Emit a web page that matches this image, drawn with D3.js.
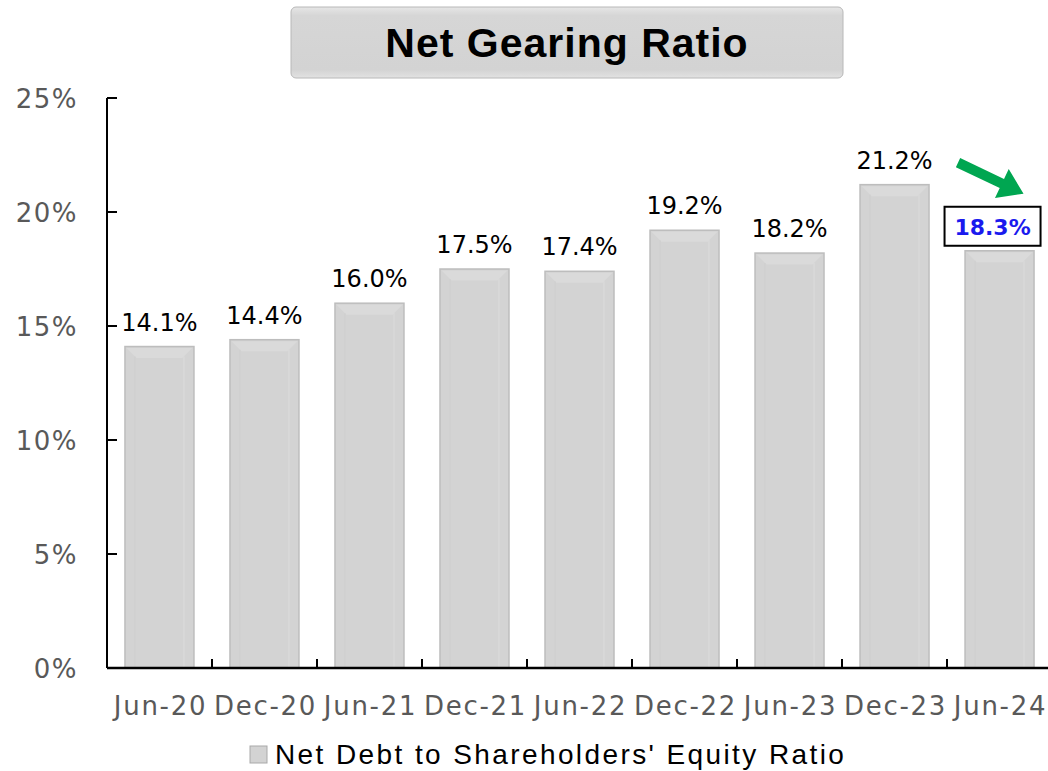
<!DOCTYPE html>
<html>
<head>
<meta charset="utf-8">
<script src="https://cdn.jsdelivr.net/npm/d3@7"></script>
<style>
  body { margin: 0; background: #fff; }
  svg { display: block; }
</style>
</head>
<body>
<svg id="chart" width="1048" height="771"></svg>
<script>
// Chart data
const periods = ["Jun-20", "Dec-20", "Jun-21", "Dec-21", "Jun-22", "Dec-22", "Jun-23", "Dec-23", "Jun-24"];
const gearing = [14.1, 14.4, 16.0, 17.5, 17.4, 19.2, 18.2, 21.2, 18.3];
const yTicks = [0, 5, 10, 15, 20, 25];
const titleText = "Net Gearing Ratio";
const legendText = "Net Debt to Shareholders' Equity Ratio";

const svg = d3.select("#chart");
const margin = { top: 98, left: 107, right: -4, bottom: 103 };
const width = 1048 - margin.left - margin.right,
      height = 771 - margin.top - margin.bottom;

const defs = svg.append("defs");
const tg = defs.append("linearGradient").attr("id", "titleGrad")
    .attr("x1", 0).attr("y1", 0).attr("x2", 0).attr("y2", 1);
tg.append("stop").attr("offset", "0%").attr("stop-color", "#e6e6e6");
tg.append("stop").attr("offset", "12%").attr("stop-color", "#d6d6d6");
tg.append("stop").attr("offset", "88%").attr("stop-color", "#d3d3d3");
tg.append("stop").attr("offset", "100%").attr("stop-color", "#e2e2e2");

// Title box
svg.append("rect")
    .attr("x", 291).attr("y", 7).attr("width", 552).attr("height", 71)
    .attr("rx", 5)
    .attr("fill", "url(#titleGrad)")
    .attr("stroke", "#b8b8b8").attr("stroke-width", 1);
svg.append("text")
    .attr("x", 567).attr("y", 57)
    .attr("text-anchor", "middle")
    .style("font-family", "'Liberation Sans', Arial, sans-serif")
    .style("font-weight", "bold")
    .style("font-size", "41px")
    .style("letter-spacing", "1px")
    .text(titleText);

const g = svg.append("g").attr("transform", `translate(${margin.left},${margin.top})`);

const x = d3.scaleBand().domain(periods).range([0, width]).paddingInner(0.343).paddingOuter(0.171);
const xb = d3.scaleBand().domain(periods).range([0, width]);
const y = d3.scaleLinear().domain([0, 25]).range([height, 0]);

// Bars
const bars = g.selectAll(".bar").data(gearing).enter().append("g").attr("class", "bar");
bars.append("rect")
    .attr("x", (d, i) => x(periods[i]))
    .attr("y", d => y(d))
    .attr("width", x.bandwidth())
    .attr("height", d => height - y(d))
    .attr("fill", "#d3d3d3")
    .attr("stroke", "#bdbdbd")
    .attr("stroke-width", 1.5);
// subtle bevel highlight
bars.append("path")
    .attr("d", (d, i) => {
        const x0 = x(periods[i]) + 1.5, x1 = x0 + x.bandwidth() - 3, y0 = y(d) + 1.5;
        return `M${x0},${y0} L${x1},${y0} L${x1 - 10},${y0 + 10} L${x0 + 10},${y0 + 10} Z`;
    })
    .attr("fill", "#dadada");
bars.append("line")
    .attr("x1", (d, i) => x(periods[i]) + 10)
    .attr("x2", (d, i) => x(periods[i]) + 10)
    .attr("y1", d => y(d) + 10)
    .attr("y2", height)
    .attr("stroke", "#cecece").attr("stroke-width", 1);
bars.append("line")
    .attr("x1", (d, i) => x(periods[i]) + x.bandwidth() - 10)
    .attr("x2", (d, i) => x(periods[i]) + x.bandwidth() - 10)
    .attr("y1", d => y(d) + 10)
    .attr("y2", height)
    .attr("stroke", "#dcdcdc").attr("stroke-width", 1);

// Data labels (all but the last)
g.selectAll(".lbl").data(gearing.slice(0, -1)).enter().append("text")
    .attr("class", "lbl")
    .attr("x", (d, i) => x(periods[i]) + x.bandwidth() / 2)
    .attr("y", d => y(d) - 16)
    .attr("text-anchor", "middle")
    .style("font-family", "'DejaVu Sans', Verdana, sans-serif")
    .style("font-size", "24px")
    .attr("fill", "#000")
    .text(d => d.toFixed(1) + "%");

// Highlighted last label
const lastI = gearing.length - 1;
const lx = x(periods[lastI]) + x.bandwidth() / 2;
const ly = y(gearing[lastI]);
g.append("rect")
    .attr("x", lx - 55).attr("y", ly - 44).attr("width", 96).attr("height", 39)
    .attr("fill", "#fff").attr("stroke", "#000").attr("stroke-width", 2);
g.append("text")
    .attr("x", lx - 7).attr("y", ly - 16)
    .attr("text-anchor", "middle")
    .style("font-family", "'DejaVu Sans', Verdana, sans-serif")
    .style("font-weight", "bold")
    .style("font-size", "22px")
    .attr("fill", "#1a1aee")
    .text(gearing[lastI].toFixed(1) + "%");

// Green arrow between the last two bars
const ax0 = x(periods[lastI - 1]) + x.bandwidth() + 29, ay0 = y(gearing[lastI - 1]) - 22;
const ax1 = lx + 24, ay1 = ly - 57;
const ang = Math.atan2(ay1 - ay0, ax1 - ax0);
const len = Math.hypot(ax1 - ax0, ay1 - ay0);
const arrow = g.append("g").attr("transform", `translate(${ax0},${ay0}) rotate(${ang * 180 / Math.PI})`);
arrow.append("path")
    .attr("d", `M0,-5 L${len - 24},-5 L${len - 24},-16 L${len},0 L${len - 24},16 L${len - 24},5 L0,5 Z`)
    .attr("fill", "#00a651");

// Axes
g.append("line").attr("x1", 0).attr("x2", width).attr("y1", height).attr("y2", height)
    .attr("stroke", "#000").attr("stroke-width", 2.5);
g.append("line").attr("x1", 0).attr("x2", 0).attr("y1", 0).attr("y2", height)
    .attr("stroke", "#000").attr("stroke-width", 2);

// y ticks (inside) and labels
g.selectAll(".ytick").data(yTicks).enter().append("line")
    .attr("x1", 0).attr("x2", 10)
    .attr("y1", d => y(d)).attr("y2", d => y(d))
    .attr("stroke", "#000").attr("stroke-width", 2);
g.selectAll(".ylab").data(yTicks).enter().append("text")
    .attr("x", -29).attr("y", d => y(d) + 10)
    .attr("text-anchor", "end")
    .style("font-family", "'DejaVu Sans', Verdana, sans-serif")
    .style("font-size", "26px")
    .style("letter-spacing", "1.5px")
    .attr("fill", "#595959")
    .text(d => d + "%");

// x ticks at category boundaries (pointing up)
g.selectAll(".xtick").data(periods.slice(1)).enter().append("line")
    .attr("x1", d => xb(d)).attr("x2", d => xb(d))
    .attr("y1", height).attr("y2", height - 9)
    .attr("stroke", "#000").attr("stroke-width", 2);
g.selectAll(".xlab").data(periods).enter().append("text")
    .attr("x", d => xb(d) + xb.bandwidth() / 2 + 1)
    .attr("y", height + 47)
    .attr("text-anchor", "middle")
    .style("font-family", "'DejaVu Sans', Verdana, sans-serif")
    .style("font-size", "26px")
    .style("letter-spacing", "1.7px")
    .attr("fill", "#595959")
    .text(d => d);

// Legend
svg.append("rect")
    .attr("x", 250).attr("y", 746).attr("width", 17).attr("height", 17)
    .attr("fill", "#d3d3d3").attr("stroke", "#a9a9a9").attr("stroke-width", 1);
svg.append("text")
    .attr("x", 275).attr("y", 764)
    .style("font-family", "'Liberation Sans', Arial, sans-serif")
    .style("font-size", "28px")
    .style("letter-spacing", "2.4px")
    .attr("fill", "#000")
    .text(legendText);
</script>
</body>
</html>
